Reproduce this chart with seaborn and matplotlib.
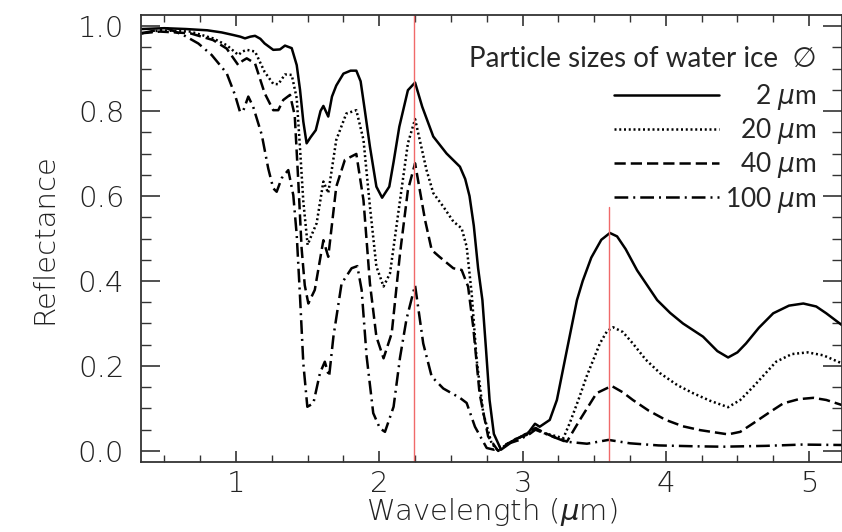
import numpy as np
import pandas as pd
import matplotlib
matplotlib.use("Agg")
import matplotlib.pyplot as plt
import seaborn as sns

# ---- data ----
x_2um = [0.34, 0.5, 0.65, 0.8, 0.9, 0.98, 1.03, 1.063, 1.10, 1.133, 1.17, 1.20, 1.26, 1.307, 1.342,
         1.389, 1.424, 1.447, 1.47, 1.493, 1.52, 1.557, 1.59, 1.61, 1.644, 1.67, 1.70, 1.75, 1.80, 1.84,
         1.87, 1.90, 1.935, 1.98, 2.02, 2.07, 2.10, 2.14, 2.20, 2.25, 2.30, 2.377, 2.47, 2.563, 2.60,
         2.63, 2.66, 2.69, 2.72, 2.745, 2.77, 2.80, 2.85, 2.90, 2.95, 3.03, 3.087, 3.12, 3.19, 3.24,
         3.31, 3.38, 3.42, 3.48, 3.55, 3.61, 3.66, 3.72, 3.80, 3.88, 3.94, 4.03, 4.12, 4.26, 4.36,
         4.435, 4.50, 4.56, 4.65, 4.75, 4.86, 4.96, 5.05, 5.12, 5.23]
y_2um = [0.993, 0.995, 0.993, 0.99, 0.985, 0.979, 0.975, 0.971, 0.975, 0.977, 0.97, 0.959, 0.944, 0.945,
         0.954, 0.948, 0.908, 0.85, 0.775, 0.724, 0.738, 0.755, 0.80, 0.812, 0.787, 0.834, 0.86, 0.888,
         0.895, 0.895, 0.87, 0.80, 0.716, 0.622, 0.596, 0.622, 0.68, 0.763, 0.849, 0.867, 0.81, 0.74,
         0.70, 0.669, 0.64, 0.60, 0.53, 0.43, 0.355, 0.24, 0.12, 0.04, 0.003, 0.015, 0.028, 0.038,
         0.064, 0.057, 0.073, 0.12, 0.238, 0.355, 0.40, 0.455, 0.497, 0.513, 0.505, 0.475, 0.425,
         0.385, 0.355, 0.325, 0.30, 0.269, 0.235, 0.22, 0.232, 0.253, 0.29, 0.324, 0.342, 0.347, 0.34,
         0.324, 0.296]

x_20um = [0.34, 0.47, 0.68, 0.84, 0.935, 1.016, 1.045, 1.075, 1.133, 1.20, 1.26, 1.295, 1.342, 1.389,
          1.424, 1.447, 1.47, 1.50, 1.53, 1.563, 1.61, 1.644, 1.70, 1.77, 1.84, 1.89, 1.935, 1.98, 2.03,
          2.075, 2.145, 2.20, 2.25, 2.33, 2.377, 2.447, 2.517, 2.575, 2.61, 2.645, 2.68, 2.726, 2.784,
          2.83, 2.90, 2.97, 3.05, 3.09, 3.15, 3.22, 3.285, 3.33, 3.39, 3.447, 3.54, 3.59, 3.633, 3.70,
          3.77, 3.86, 3.96, 4.08, 4.19, 4.31, 4.435, 4.52, 4.61, 4.77, 4.88, 4.99, 5.10, 5.23]
y_20um = [0.983, 0.99, 0.987, 0.971, 0.955, 0.932, 0.94, 0.944, 0.94, 0.892, 0.864, 0.863, 0.886, 0.885,
          0.83, 0.712, 0.587, 0.485, 0.51, 0.536, 0.634, 0.607, 0.732, 0.794, 0.802, 0.732, 0.575, 0.434,
          0.387, 0.418, 0.59, 0.724, 0.781, 0.661, 0.607, 0.575, 0.54, 0.524, 0.481, 0.371, 0.214, 0.089,
          0.018, 0.0, 0.018, 0.03, 0.045, 0.054, 0.042, 0.036, 0.03, 0.066, 0.12, 0.175, 0.253, 0.282,
          0.291, 0.28, 0.253, 0.215, 0.183, 0.155, 0.136, 0.118, 0.103, 0.12, 0.151, 0.21, 0.228, 0.232,
          0.225, 0.206]

x_40um = [0.34, 0.47, 0.68, 0.84, 0.935, 1.016, 1.045, 1.075, 1.133, 1.20, 1.26, 1.295, 1.33, 1.377,
          1.41, 1.435, 1.458, 1.48, 1.505, 1.55, 1.61, 1.644, 1.70, 1.76, 1.84, 1.89, 1.935, 1.98, 2.03,
          2.087, 2.145, 2.20, 2.25, 2.32, 2.366, 2.42, 2.517, 2.575, 2.62, 2.656, 2.70, 2.76, 2.83, 2.90,
          2.97, 3.05, 3.09, 3.14, 3.21, 3.31, 3.40, 3.517, 3.622, 3.70, 3.77, 3.88, 4.0, 4.12, 4.24,
          4.435, 4.52, 4.61, 4.72, 4.82, 4.93, 5.03, 5.12, 5.23]
y_40um = [0.983, 0.987, 0.983, 0.967, 0.947, 0.908, 0.918, 0.924, 0.912, 0.842, 0.802, 0.802, 0.826,
          0.838, 0.79, 0.634, 0.477, 0.39, 0.347, 0.379, 0.496, 0.457, 0.622, 0.685, 0.699, 0.59, 0.394,
          0.269, 0.218, 0.277, 0.465, 0.614, 0.677, 0.543, 0.473, 0.457, 0.43, 0.426, 0.387, 0.292,
          0.136, 0.034, 0.0, 0.018, 0.03, 0.045, 0.054, 0.045, 0.034, 0.022, 0.073, 0.136, 0.153, 0.138,
          0.12, 0.095, 0.073, 0.058, 0.049, 0.039, 0.045, 0.065, 0.09, 0.112, 0.122, 0.125, 0.12, 0.108]

x_100um = [0.34, 0.516, 0.632, 0.737, 0.83, 0.935, 0.993, 1.028, 1.05, 1.086, 1.12, 1.18, 1.225, 1.26,
           1.284, 1.319, 1.365, 1.40, 1.424, 1.447, 1.47, 1.498, 1.54, 1.586, 1.62, 1.65, 1.68, 1.737,
           1.807, 1.847, 1.877, 1.912, 1.958, 2.005, 2.04, 2.10, 2.145, 2.19, 2.25, 2.307, 2.366, 2.447,
           2.563, 2.61, 2.668, 2.75, 2.80, 2.88, 2.97, 3.05, 3.09, 3.2, 3.3, 3.45, 3.6, 3.75, 3.95, 4.2,
           4.4, 4.7, 4.95, 5.23]
y_100um = [0.983, 0.995, 0.979, 0.959, 0.932, 0.889, 0.838, 0.798, 0.80, 0.834, 0.81, 0.744, 0.665,
           0.618, 0.61, 0.642, 0.661, 0.602, 0.508, 0.363, 0.206, 0.104, 0.112, 0.183, 0.21, 0.175, 0.269,
           0.394, 0.43, 0.435, 0.379, 0.222, 0.089, 0.053, 0.045, 0.104, 0.22, 0.31, 0.39, 0.253, 0.175,
           0.147, 0.125, 0.113, 0.057, 0.007, 0.003, 0.015, 0.025, 0.04, 0.05, 0.035, 0.022, 0.017, 0.026,
           0.018, 0.013, 0.011, 0.01, 0.012, 0.015, 0.014]

series_labels = ["\u2007\u20072 $\\mu$m", "\u200720 $\\mu$m", "\u200740 $\\mu$m", "100 $\\mu$m"]
legend_title = "Particle sizes of water ice  \u2205"
marker_lines = [2.245, 3.605]
x_ticks = [1, 2, 3, 4, 5]
y_ticks = [0.0, 0.2, 0.4, 0.6, 0.8, 1.0]
y_ticklabels = ["0.0", "0.2", "0.4", "0.6", "0.8", "1.0"]

# ---- styling ----
sns.set_style("ticks")
plt.rcParams["font.family"] = ["DejaVu Sans"]
plt.rcParams["mathtext.fontset"] = "dejavusans"

fig = plt.figure(figsize=(8.42, 5.32), dpi=100)
ax = fig.add_axes([141 / 842, 70 / 532, 701 / 842, 447 / 532])

styles = ["-", (0, (0.8, 1.1)), (0, (4.5, 2.0)), (0, (5.5, 2.0, 0.8, 2.0))]
xs = [x_2um, x_20um, x_40um, x_100um]
ys = [y_2um, y_20um, y_40um, y_100um]
for xv, yv, ls, lab in zip(xs, ys, styles, series_labels):
    df = pd.DataFrame({"x": xv, "y": yv})
    sns.lineplot(data=df, x="x", y="y", ax=ax, color="black", linestyle=ls,
                 linewidth=1.8, estimator=None, sort=False, label=lab, legend=False)

handles = ax.get_lines()[:4]

# red marker lines
ax.axvline(marker_lines[0], ymin=0, ymax=1, color="#f06a6a", lw=1.0)
ax.axvline(marker_lines[1], ymin=0, ymax=0.57, color="#f06a6a", lw=1.0)

ax.set_xlim(0.337, 5.23)
ax.set_ylim(-0.026, 1.026)
ax.set_xticks(x_ticks)
ax.set_xticks(np.arange(0.5, 5.25, 0.25), minor=True)
ax.set_yticks(y_ticks)
ax.set_yticklabels(y_ticklabels)
ax.set_yticks(np.arange(0.0, 1.01, 0.05), minor=True)

for lab in ax.get_xticklabels() + ax.get_yticklabels():
    lab.set_fontsize(21)
    lab.set_fontweight("light")
    lab.set_color("#222222")

ax.tick_params(axis="x", which="major", direction="in", length=8, width=1.2, top=True, pad=6, colors="#333333", labelcolor="#222222")
ax.tick_params(axis="x", which="minor", direction="in", length=5, width=1.0, top=True, colors="#333333")
ax.tick_params(axis="y", which="major", direction="in", length=14, width=1.2, right=True, pad=12, colors="#333333", labelcolor="#222222")
ax.tick_params(axis="y", which="minor", direction="in", length=7, width=1.0, right=True, colors="#333333")
for sp in ax.spines.values():
    sp.set_visible(True)
    sp.set_linewidth(1.3)
    sp.set_color("#333333")

ax.set_xlabel("Wavelength ($\\mu$m)", fontsize=21, fontweight="light", color="#222222", labelpad=-2)
ax.set_ylabel("Reflectance", fontsize=21, fontweight="light", color="#222222", labelpad=14)

leg = ax.legend(handles=handles, labels=series_labels, title=legend_title,
                loc="upper right", bbox_to_anchor=(0.963, 0.93), frameon=False,
                handlelength=4.0, handletextpad=0.2,
                labelspacing=0.16, borderpad=0, borderaxespad=0, alignment="right",
                prop={"family": ["Lato", "DejaVu Sans"], "size": 19})
leg.get_title().set_family(["Lato", "DejaVu Sans"])
leg.get_title().set_fontsize(20)
leg._legend_box.sep = 7

fig.savefig("out.png", dpi=100)
